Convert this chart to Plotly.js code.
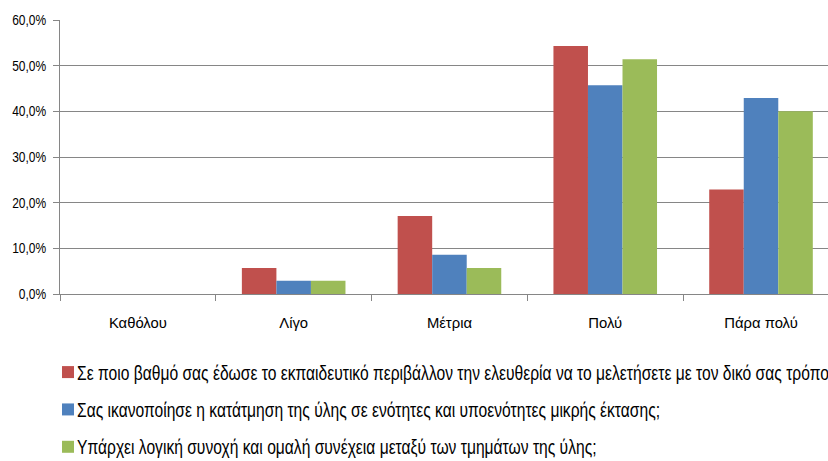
<!DOCTYPE html>
<html>
<head>
<meta charset="utf-8">
<script src="https://cdn.plot.ly/plotly-3.0.1.min.js"></script>
<style>html,body{margin:0;padding:0;background:#fff;}#chart{width:828px;height:461px;}</style>
</head>
<body>
<div id="chart"></div>
<script>
const categories = ["Καθόλου", "Λίγο", "Μέτρια", "Πολύ", "Πάρα πολύ"];
const seriesNames = [
  "Σε ποιο βαθμό σας έδωσε το εκπαιδευτικό περιβάλλον την ελευθερία να το μελετήσετε με τον δικό σας τρόπο;",
  "Σας ικανοποίησε η κατάτμηση της ύλης σε ενότητες και υποενότητες μικρής έκτασης;",
  "Υπάρχει λογική συνοχή και ομαλή συνέχεια μεταξύ των τμημάτων της ύλης;"
];
const freedom = [0.0, 0.057, 0.171, 0.543, 0.229];
const segmentation = [0.0, 0.029, 0.086, 0.457, 0.429];
const coherence = [0.0, 0.029, 0.057, 0.514, 0.400];
const colors = ["#C0504D", "#4F81BD", "#9BBB59"];
const yTicks = [0, 0.1, 0.2, 0.3, 0.4, 0.5, 0.6];

const font = '"Liberation Sans", Arial, sans-serif';
const data = [freedom, segmentation, coherence].map((vals, i) => ({
  type: "bar",
  x: categories,
  y: vals,
  name: seriesNames[i],
  legendgroup: "g" + i,
  marker: {color: colors[i], line: {width: 0}},
  hoverinfo: "y"
}));

const layout = {
  width: 828, height: 461,
  margin: {l: 60, r: 0, t: 20, b: 167, autoexpand: false},
  separators: ",.",
  font: {family: font, size: 14, color: "#000"},
  paper_bgcolor: "#fff", plot_bgcolor: "#fff",
  barmode: "group", bargap: 0.335, bargroupgap: 0,
  showlegend: true,
  legend: {
    orientation: "v", traceorder: "grouped", tracegroupgap: 9,
    x: -0.0156, xanchor: "left",
    y: -0.215, yanchor: "top",
    font: {family: font, size: 19.5, color: "#000"},
    itemwidth: 30, bgcolor: "rgba(0,0,0,0)"
  },
  xaxis: {
    type: "category", range: [-0.5, 4.43],
    showgrid: false, showline: true, linecolor: "#868686", linewidth: 1,
    ticks: "outside", tickson: "boundaries", ticklen: 6, tickcolor: "#868686",
    ticklabelstandoff: 14,
    tickfont: {size: 15.5}
  },
  yaxis: {
    range: [0, 0.6], tickvals: yTicks, tickformat: ".1%",
    showgrid: true, gridcolor: "#868686", gridwidth: 1,
    showline: true, linecolor: "#868686", linewidth: 1,
    ticks: "outside", ticklen: 6, tickcolor: "#868686",
    ticklabelstandoff: 4,
    zeroline: false, tickfont: {size: 14}
  }
};

function squeeze(selector, refText, targetWidth) {
  const nodes = Array.from(document.querySelectorAll(selector));
  const ref = nodes.find(n => n.textContent === refText);
  if (!ref) return;
  const k = targetWidth / ref.getComputedTextLength();
  nodes.forEach(n => {
    const w = n.getComputedTextLength();
    n.setAttribute("textLength", (w * k).toFixed(2));
    n.setAttribute("lengthAdjust", "spacingAndGlyphs");
  });
}

Plotly.newPlot("chart", data, layout, {staticPlot: true, displayModeBar: false}).then(() => {
  squeeze(".ytick text", "60,0%", 34);
  squeeze(".xtick text", "Καθόλου", 58);
  squeeze(".legendtext", seriesNames[1], 583);
  document.querySelectorAll(".legendtext").forEach(n => n.setAttribute("x", 29));
});
</script>
</body>
</html>
